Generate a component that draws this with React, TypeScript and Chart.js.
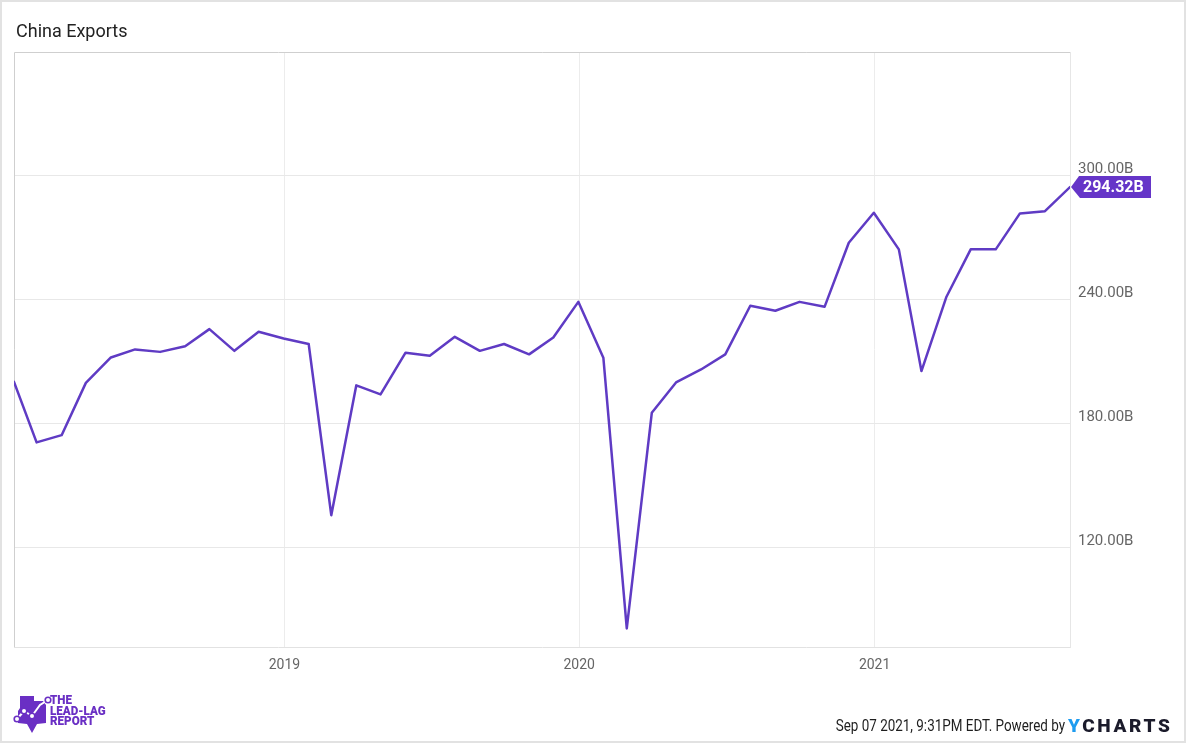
import React, { useEffect, useRef } from "react";
import { Chart, registerables } from "chart.js";

Chart.register(...registerables);

// Monthly China exports (USD billions), month-end observations
const months: string[] = [
  "2018-01", "2018-02", "2018-03", "2018-04", "2018-05", "2018-06",
  "2018-07", "2018-08", "2018-09", "2018-10", "2018-11", "2018-12",
  "2019-01", "2019-02", "2019-03", "2019-04", "2019-05", "2019-06",
  "2019-07", "2019-08", "2019-09", "2019-10", "2019-11", "2019-12",
  "2020-01", "2020-02", "2020-03", "2020-04", "2020-05", "2020-06",
  "2020-07", "2020-08", "2020-09", "2020-10", "2020-11", "2020-12",
  "2021-01", "2021-02", "2021-03", "2021-04", "2021-05", "2021-06",
  "2021-07", "2021-08",
];

const exportsB: number[] = [
  200.1, 170.8, 174.3, 199.6, 211.9, 215.8, 214.6, 217.3, 225.6, 215.1, 224.3, 221.1,
  218.4, 135.6, 198.4, 194.0, 214.2, 212.7, 221.9, 215.1, 218.4, 213.4, 221.6, 238.8,
  211.8, 80.8, 185.1, 199.8, 206.1, 213.4, 236.9, 234.5, 238.8, 236.4, 267.4, 281.9,
  264.2, 205.3, 241.3, 264.2, 264.2, 281.6, 282.7, 294.32,
];

const yTickValues: number[] = [120, 180, 240, 300];
const xTickYears: number[] = [2019, 2020, 2021];

const Y_MIN = 71.8;
const Y_MAX = 359.7;

const DAY = 86400000;
const monthEndDay = (ym: string): number => {
  const [y, m] = ym.split("-").map(Number);
  return Date.UTC(y, m, 0) / DAY;
};

const LINE_COLOR = "#5f3bc4";
const LABEL_COLOR = "#6535c8";

const frameLinesPlugin = {
  id: "frameLines",
  beforeDatasetsDraw(chart: any) {
    const { ctx, chartArea } = chart;
    ctx.save();
    ctx.strokeStyle = "#cfcfcf";
    ctx.lineWidth = 1;
    ctx.beginPath();
    ctx.moveTo(chartArea.left + 0.5, chartArea.bottom);
    ctx.lineTo(chartArea.left + 0.5, chartArea.top + 0.5);
    ctx.lineTo(chartArea.right, chartArea.top + 0.5);
    ctx.stroke();
    ctx.restore();
  },
};

const lastValuePlugin = {
  id: "lastValue",
  afterDatasetsDraw(chart: any) {
    const { ctx, chartArea, scales } = chart;
    const data = chart.data.datasets[0].data as { x: number; y: number }[];
    const last = data[data.length - 1];
    const y = scales.y.getPixelForValue(last.y);
    const x = chartArea.right + 1;
    const h = 22;
    ctx.save();
    ctx.fillStyle = LABEL_COLOR;
    ctx.beginPath();
    ctx.moveTo(x, y);
    ctx.lineTo(x + 8, y - h / 2);
    ctx.lineTo(x + 80, y - h / 2);
    ctx.lineTo(x + 80, y + h / 2);
    ctx.lineTo(x + 9, y + h / 2);
    ctx.closePath();
    ctx.fill();
    ctx.fillStyle = "#ffffff";
    ctx.font = "bold 16px Roboto";
    ctx.textAlign = "left";
    ctx.textBaseline = "middle";
    ctx.fillText(last.y.toFixed(2) + "B", x + 12, y + 1);
    ctx.restore();
  },
};

function Logo() {
  return (
    <div style={{ position: "absolute", left: 12, top: 694, width: 100, height: 42 }}>
      <svg width="40" height="42" viewBox="0 0 40 42" style={{ position: "absolute", left: 0, top: 0 }}>
        <polygon
          points="8,2 22,2 22,7 31,7 34,11 34,29 25,30 20,39 15,30 6,29 6,17 8,14"
          fill="#6a2fc4"
        />
        <polyline points="5,25 12,17 20,22 28,11 36,6" fill="none" stroke="#ffffff" strokeWidth="2" />
        <circle cx="5" cy="25" r="2.8" fill="#ffffff" stroke="#6a2fc4" strokeWidth="1.6" />
        <circle cx="12" cy="17" r="2.8" fill="#ffffff" stroke="#6a2fc4" strokeWidth="1.6" />
        <circle cx="20" cy="22" r="2.8" fill="#ffffff" stroke="#6a2fc4" strokeWidth="1.6" />
        <circle cx="36" cy="6" r="2.8" fill="#ffffff" stroke="#6a2fc4" strokeWidth="1.6" />
      </svg>
      <div
        style={{
          position: "absolute",
          left: 38,
          top: 1,
          fontFamily: "Roboto",
          fontWeight: 900,
          fontSize: 12.5,
          lineHeight: "10.7px",
          color: "#6a2fc4",
          transform: "scaleX(0.93)",
          transformOrigin: "left top",
          whiteSpace: "nowrap",
        }}
      >
        <div>THE</div>
        <div>LEAD-LAG</div>
        <div>REPORT</div>
      </div>
    </div>
  );
}

export default function App() {
  const canvasRef = useRef<HTMLCanvasElement | null>(null);

  useEffect(() => {
    if (!canvasRef.current) return;
    const points = months.map((m, i) => ({ x: monthEndDay(m), y: exportsB[i] }));
    const chart = new Chart(canvasRef.current, {
      type: "line",
      data: {
        datasets: [
          {
            data: points,
            borderColor: LINE_COLOR,
            borderWidth: 2.5,
            borderJoinStyle: "round",
            borderCapStyle: "round",
            pointRadius: 0,
            pointHoverRadius: 0,
            tension: 0,
            fill: false,
          },
        ],
      },
      options: {
        animation: false,
        responsive: false,
        maintainAspectRatio: false,
        devicePixelRatio: 1,
        layout: { padding: { left: 14, top: 52, right: 0, bottom: 0 } },
        plugins: {
          legend: { display: false },
          tooltip: { enabled: false },
          title: { display: false },
        },
        scales: {
          x: {
            type: "linear",
            min: points[0].x,
            max: points[points.length - 1].x,
            afterBuildTicks: (scale: any) => {
              scale.ticks = xTickYears.map((y) => ({ value: Date.UTC(y, 0, 1) / DAY }));
            },
            afterFit: (scale: any) => {
              scale.height = 96;
            },
            grid: { color: "#ececec", drawTicks: false, lineWidth: 1 },
            border: { display: true, color: "#e2e2e2" },
            ticks: {
              padding: 10,
              color: "#666666",
              font: { family: "Roboto", size: 14 },
              maxRotation: 0,
              autoSkip: false,
              callback: (v: any) => String(new Date(Number(v) * DAY).getUTCFullYear()),
            },
          },
          y: {
            type: "linear",
            position: "right",
            min: Y_MIN,
            max: Y_MAX,
            afterBuildTicks: (scale: any) => {
              scale.ticks = yTickValues.map((v) => ({ value: v }));
            },
            afterFit: (scale: any) => {
              scale.width = 116;
            },
            grid: { color: "#e8e8e8", drawTicks: false, lineWidth: 1 },
            border: { display: true, color: "#e6e6e6" },
            ticks: {
              padding: 8,
              labelOffset: -6,
              color: "#666666",
              font: { family: "Roboto", size: 15 },
              callback: (v: any) => Number(v).toFixed(2) + "B",
            },
          },
        },
      },
      plugins: [frameLinesPlugin, lastValuePlugin],
    });
    return () => chart.destroy();
  }, []);

  return (
    <div
      style={{
        position: "fixed",
        left: 0,
        top: 0,
        width: 1186,
        height: 743,
        overflow: "hidden",
        background: "#ffffff",
      }}
    >
      <canvas ref={canvasRef} width={1186} height={743} style={{ position: "absolute", left: 0, top: 0, width: 1186, height: 743 }} />
      <div
        style={{
          position: "absolute",
          left: 0,
          top: 0,
          width: 1186,
          height: 743,
          boxSizing: "border-box",
          border: "2px solid #e2e2e2",
          pointerEvents: "none",
        }}
      />
      <div
        style={{
          position: "absolute",
          left: 16,
          top: 19,
          fontFamily: "Roboto",
          fontSize: 18,
          lineHeight: "24px",
          color: "#222222",
          whiteSpace: "nowrap",
        }}
      >
        China Exports
      </div>
      <Logo />
      <div
        style={{
          position: "absolute",
          right: 1186 - 1065,
          top: 715,
          fontFamily: "Roboto",
          fontSize: 16,
          lineHeight: "22px",
          color: "#1e1e1e",
          whiteSpace: "nowrap",
          transform: "scaleX(0.84)",
          transformOrigin: "right top",
        }}
      >
        Sep 07 2021, 9:31PM EDT. Powered by
      </div>
      <div
        style={{
          position: "absolute",
          left: 1068,
          top: 714,
          fontFamily: "Roboto",
          fontWeight: 900,
          fontSize: 19,
          lineHeight: "24px",
          letterSpacing: "2.6px",
          color: "#1b1b2b",
          whiteSpace: "nowrap",
        }}
      >
        <span style={{ color: "#1e9cf0" }}>Y</span>CHARTS
      </div>
    </div>
  );
}
